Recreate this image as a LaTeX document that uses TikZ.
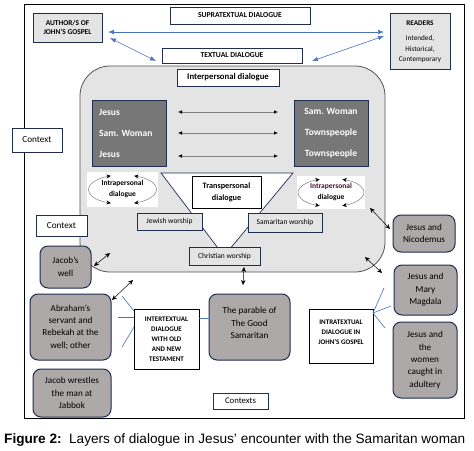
\documentclass[tikz,border=0pt]{standalone}
\usepackage{fontspec}
\setmainfont{Carlito}
\newfontfamily\capfont{Liberation Sans}
\usetikzlibrary{arrows.meta,calc}
\definecolor{navy}{HTML}{1F2D4F}
\definecolor{lightg}{HTML}{E4E4E4}
\definecolor{darkg}{HTML}{777777}
\definecolor{midg}{HTML}{ADA9A8}
\definecolor{bluec}{HTML}{4A72C0}
\definecolor{rimg}{HTML}{555555}
\newcommand{\fs}[2]{\fontsize{#1}{#2}\selectfont}
\tikzset{
  bx/.style={draw=navy, line width=0.8pt, inner sep=0pt, align=center},
  whitebox/.style={bx, fill=white},
  lightbox/.style={bx, fill=lightg},
  darkbox/.style={bx, fill=darkg},
  blackbox/.style={draw=black, line width=0.9pt, fill=white, inner sep=0pt, align=center},
  grayround/.style={draw=navy, line width=1pt, fill=midg, rounded corners=8pt, inner sep=0pt, align=center},
  blueline/.style={draw=bluec, line width=0.6pt},
  bluearrow/.style={blueline, {Latex[length=6pt,width=4.5pt]}-{Latex[length=6pt,width=4.5pt]}},
  blkarrow/.style={draw=black, line width=0.5pt, {Stealth[length=5pt,width=4.5pt]}-{Stealth[length=5pt,width=4.5pt]}},
  grayarrow/.style={draw=gray, line width=0.5pt, {Latex[length=4pt,width=3.5pt,black]}-{Latex[length=4pt,width=3.5pt,black]}},
  circarrow/.style={draw=gray, line width=0.5pt, {Stealth[length=4.5pt,width=4pt,black]}-{Stealth[length=4.5pt,width=4pt,black]}},
  plain/.style={inner sep=0pt, align=center}
}
\begin{document}
\begin{tikzpicture}[x=1pt,y=-1pt]
\useasboundingbox (0,0) rectangle (474,450);
\fill[white] (0,0) rectangle (474,450);
% frame
\draw[black, line width=1pt] (24,4) rectangle (464,418);

% top boxes
\node[lightbox, minimum width=69pt, minimum height=29pt, font=\bfseries\fs{7.4}{9.5}] (author) at (67.5,27.5) {AUTHOR/S OF\\JOHN'S GOSPEL};
\node[whitebox, minimum width=140pt, minimum height=17pt, font=\bfseries\fs{7.6}{9}] (supra) at (240,15.5) {SUPRATEXTUAL DIALOGUE};
\node[whitebox, minimum width=140pt, minimum height=15pt, font=\bfseries\fs{7.6}{9}] (textual) at (232,55.5) {TEXTUAL DIALOGUE};
\node[lightbox, minimum width=60pt, minimum height=56pt] (readers) at (420,41) {};
\node[plain, font=\fs{7.2}{10.7}] (readerstxt) at (420,42) {\textbf{READERS}\\[4pt]Intended,\\Historical,\\Contemporary};

% blue arrows
\coordinate (a1) at (108,32);
\coordinate (a2) at (384,32);
\draw[bluearrow] (a1) -- (a2);
\coordinate (a3) at (110,38);
\coordinate (a4) at (156,61);
\draw[bluearrow] (a3) -- (a4);
\coordinate (a5) at (384,36);
\coordinate (a6) at (312,61);
\draw[bluearrow] (a5) -- (a6);

% big rounded area
\draw[draw=rimg, line width=0.8pt, fill=lightg, rounded corners=30pt] (80,66) rectangle (385,272);
\node[whitebox, minimum width=102pt, minimum height=17pt, font=\bfseries\fs{8.7}{10}] (interp) at (228,77.5) {Interpersonal dialogue};

% dark boxes
\node[darkbox, minimum width=74pt, minimum height=66pt] (ldark) at (129,133) {};
\node[plain, anchor=west, align=left, text=white, font=\bfseries\fs{9.5}{21}] (ldarktxt) at (99,133) {Jesus\\Sam. Woman\\Jesus};
\node[darkbox, minimum width=74pt, minimum height=66pt] (rdark) at (331,133) {};
\node[plain, text=white, font=\bfseries\fs{9.5}{21}] (rdarktxt) at (331,133) {Sam. Woman\\Townspeople\\Townspeople};

\coordinate (h1l) at (178,112); \coordinate (h1r) at (278,112);
\coordinate (h2l) at (178,133); \coordinate (h2r) at (278,133);
\coordinate (h3l) at (178,156); \coordinate (h3r) at (278,156);
\draw[grayarrow] (h1l) -- (h1r);
\draw[grayarrow] (h2l) -- (h2r);
\draw[grayarrow] (h3l) -- (h3r);

% triangle
\coordinate (t1) at (161,173);
\coordinate (t2) at (293,173);
\coordinate (t3) at (224,256);
\draw[draw=navy, line width=0.7pt, fill=white] (t1) -- (t2) -- (t3) -- cycle;
\node[blackbox, minimum width=69pt, minimum height=32pt, font=\bfseries\fs{8.2}{12}] (transp) at (226.5,192) {Transpersonal\\dialogue};
\node[lightbox, minimum width=65pt, minimum height=17pt, font=\fs{7.5}{9}] (jewish) at (169.5,221.5) {Jewish worship};
\node[lightbox, minimum width=74pt, minimum height=19pt, font=\fs{7.5}{9}] (samar) at (285,222.5) {Samaritan worship};
\node[lightbox, minimum width=71pt, minimum height=18pt, font=\fs{7.5}{9}] (christ) at (224.5,256) {Christian worship};

% intrapersonal left
\node[fill=white, minimum width=71pt, minimum height=35pt, inner sep=0pt] (intraL) at (122.5,189.5) {};
\draw[circarrow] ($(intraL.center)+(110:34 and 14.5)$) arc[start angle=110, end angle=250, x radius=34, y radius=14.5];
\draw[circarrow] ($(intraL.center)+(-70:34 and 14.5)$) arc[start angle=-70, end angle=70, x radius=34, y radius=14.5];
\node[plain, font=\bfseries\fs{7.5}{11}] (intraLtxt) at (122.5,189.5) {Intrapersonal\\dialogue};
% intrapersonal right
\node[fill=white, minimum width=68pt, minimum height=33pt, inner sep=0pt] (intraR) at (331,192.5) {};
\draw[circarrow] ($(intraR.center)+(110:33 and 14)$) arc[start angle=110, end angle=250, x radius=33, y radius=14];
\draw[circarrow] ($(intraR.center)+(-70:33 and 14)$) arc[start angle=-70, end angle=70, x radius=33, y radius=14];
\node[plain, font=\bfseries\fs{7.5}{11}] (intraRtxt) at (331,192.5) {\textcolor[HTML]{4A1030}{Intrapersonal}\\dialogue};

% context boxes
\node[whitebox, minimum width=50pt, minimum height=24pt, font=\fs{9.2}{10}] (ctx1) at (37,140) {Context};
\node[whitebox, minimum width=51pt, minimum height=21pt, font=\fs{9.2}{10}] (ctx2) at (61.5,225.5) {Context};
\node[whitebox, minimum width=55pt, minimum height=16pt, font=\fs{8.7}{10}] (ctxs) at (240.5,401) {Contexts};

% gray rounded boxes
\node[grayround, minimum width=51pt, minimum height=42pt, font=\fs{9.2}{12.5}] (well) at (65.5,267) {Jacob’s\\well};
\node[grayround, minimum width=81pt, minimum height=66pt, font=\fs{9.2}{12.3}] (abraham) at (70.5,327) {Abraham’s\\servant and\\Rebekah at the\\well; other};
\node[grayround, minimum width=78pt, minimum height=48pt, font=\fs{9.2}{12.3}] (wrestle) at (72,393) {Jacob wrestles\\the man at\\Jabbok};
\node[grayround, minimum width=81pt, minimum height=66pt] (parable) at (249.5,327) {};
\node[plain, font=\fs{9.2}{12.5}] (parabletxt) at (249.5,323) {The parable of\\The Good\\Samaritan};
\node[grayround, minimum width=62pt, minimum height=37pt, font=\fs{9.2}{12.5}] (nico) at (424,233.5) {Jesus and\\Nicodemus};
\node[grayround, minimum width=63pt, minimum height=50pt, font=\fs{9.2}{12.5}] (mary) at (425.5,290) {Jesus and\\Mary\\Magdala};
\node[grayround, minimum width=64pt, minimum height=76pt, font=\fs{9.2}{12.4}] (women) at (425,360) {Jesus and\\the\\women\\caught in\\adultery};

% inter/intra textual boxes
\node[blackbox, minimum width=65pt, minimum height=60pt, font=\bfseries\fs{7}{10}] (inter) at (166.5,339) {INTERTEXTUAL\\DIALOGUE\\WITH OLD\\AND NEW\\TESTAMENT};
\node[blackbox, minimum width=64pt, minimum height=54pt] (intra) at (341,336) {};
\node[plain, font=\bfseries\fs{7}{9.8}] (intratxt) at (341,332) {INTRATEXTUAL\\DIALOGUE IN\\JOHN'S GOSPEL};

% blue lines of inter/intra textual
\coordinate (b1) at (122,296); \coordinate (b2) at (134,311);
\coordinate (b3) at (118,317); \coordinate (b4) at (134,317);
\coordinate (b5) at (134,327); \coordinate (b6) at (122,347);
\coordinate (b7) at (199,318); \coordinate (b8) at (210,318);
\draw[blueline] (b1) -- (b2);
\draw[blueline] (b3) -- (b4);
\draw[blueline] (b5) -- (b6);
\draw[blueline] (b7) -- (b8);
\coordinate (c0) at (373,313);
\coordinate (c1) at (384,288);
\coordinate (c2) at (391,306);
\coordinate (c3) at (385,328);
\draw[blueline] (c0) -- (c1);
\draw[blueline] (c0) -- (c2);
\draw[blueline] (c0) -- (c3);

% black double arrows
\coordinate (d1) at (94,266); \coordinate (d2) at (110,253);
\draw[blkarrow] (d1) -- (d2);
\coordinate (d3) at (112,300); \coordinate (d4) at (133,280);
\draw[blkarrow] (d3) -- (d4);
\coordinate (d5) at (244,267); \coordinate (d6) at (243,285);
\draw[blkarrow] (d5) -- (d6);
\coordinate (d7) at (370,208); \coordinate (d8) at (390,229);
\draw[blkarrow] (d7) -- (d8);
\coordinate (d9) at (365,257); \coordinate (d10) at (382,273);
\draw[blkarrow] (d9) -- (d10);

% caption
\node[plain, anchor=west, font=\capfont\fs{13.6}{15}] (caption) at (4,440) {\textbf{Figure 2:}\ \ Layers of dialogue in Jesus’ encounter with the Samaritan woman};
\end{tikzpicture}
\end{document}
